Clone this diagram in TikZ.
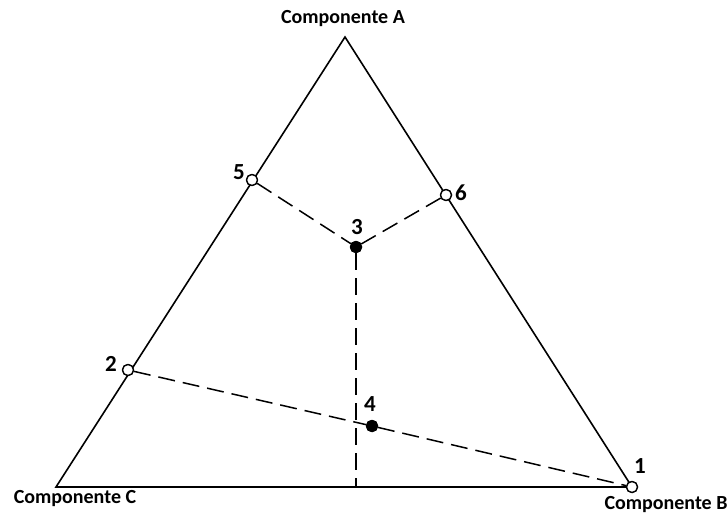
\documentclass[tikz,border=0pt]{standalone}
\usepackage{fontspec}
\setmainfont{Carlito}
\begin{document}
\begin{tikzpicture}[x=1pt,y=1pt,
  edge/.style={line width=1.6pt},
  dsh/.style={line width=1.5pt, dash pattern=on 17pt off 8pt},
  opn/.style={circle, draw, fill=white, line width=1.3pt, minimum size=11pt, inner sep=0pt},
  cls/.style={circle, draw, fill=black, line width=1.3pt, minimum size=11pt, inner sep=0pt},
  comp/.style={font=\bfseries\fontsize{20}{24}\selectfont, inner sep=0pt},
  num/.style={font=\bfseries\fontsize{23}{27}\selectfont, inner sep=0pt}]
\useasboundingbox (0,0) rectangle (728,515);
\fill[white] (0,0) rectangle (728,515);
% vertices (y = 515 - ypx)
\coordinate (A) at (345,478);
\coordinate (C) at (56,28);
\coordinate (B) at (632,28);
\coordinate (base) at (356,28);
\draw[edge, line join=miter] (A) -- (B) -- (C) -- cycle;
% points
\node[opn] (p5) at (252,335) {};
\node[opn] (p6) at (446,320) {};
\node[cls] (p3) at (356,268) {};
\node[opn] (p2) at (128,145) {};
\node[cls] (p4) at (372,89) {};
\node[opn] (p1) at (632,28) {};
% dashed lines
\draw[dsh] (p5) -- (p3);
\draw[dsh] (p6) -- (p3);
\draw[dsh] (p3) -- (base);
\draw[dsh] (p2) -- (p4);
\draw[dsh] (p4) -- (p1);
\node[opn] at (p5) {};
\node[opn] at (p6) {};
\node[opn] at (p2) {};
\node[opn] at (p1) {};
\node[cls] at (p3) {};
\node[cls] at (p4) {};
% labels
\node[num] (l5) at (239,343) {5};
\node[num] (l6) at (461,322) {6};
\node[num] (l3) at (357,288) {3};
\node[num] (l2) at (111,151) {2};
\node[num] (l4) at (370,111) {4};
\node[num] (l1) at (640,49) {1};
\node[comp] (cA) at (343,496) {Componente A};
\node[comp] (cC) at (75,16) {Componente C};
\node[comp] (cB) at (666,10) {Componente B};
\end{tikzpicture}
\end{document}
